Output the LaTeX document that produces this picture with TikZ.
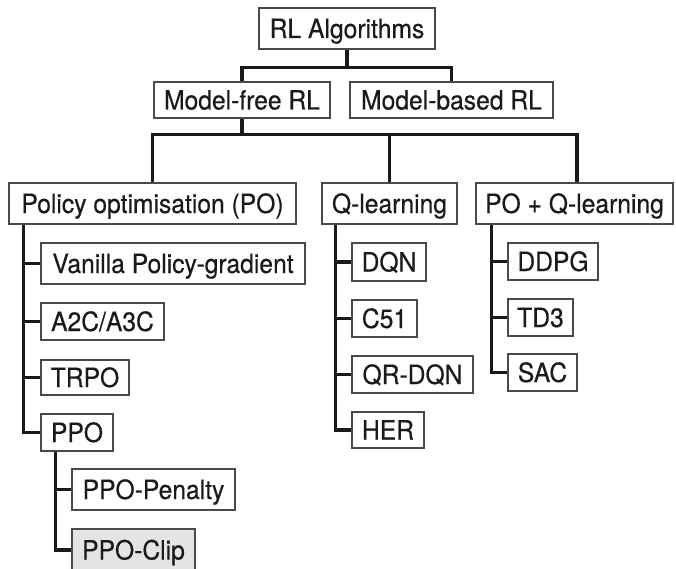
\documentclass[tikz,border=0pt]{standalone}
\usepackage{fontspec}
\setmainfont{TeX Gyre Heros}[FakeStretch=0.93,FakeBold=0.4]
\definecolor{boxgray}{HTML}{4A4A4A}
\definecolor{linkc}{HTML}{1A1A1A}
\definecolor{txt}{HTML}{1A1A1A}
\definecolor{clipfill}{HTML}{E4E4E4}
\newcommand\mybox[7][]{%
  \node[box,#1,minimum width={#5-#3},minimum height={#6-#4}] (#2) at ({(#3+#5)/2},{(#4+#6)/2}) {#7};}
\begin{document}
\begin{tikzpicture}[x=1pt,y=-1pt,
  box/.style={draw=boxgray,line width=1.4pt,inner sep=0pt,text=txt,
    font=\fontsize{26.5}{31}\selectfont,text height=19pt,text depth=0pt},
  link/.style={draw=linkc,line width=3.2pt,line join=miter}]
\useasboundingbox (0,0) rectangle (676,569);
\clip (0,0) rectangle (676,569);
% boxes
\mybox{root}{259}{8}{435}{49}{RL Algorithms}
\mybox{mf}{154}{82}{330}{118}{Model-free RL}
\mybox{mb}{350}{82}{553}{118}{Model-based RL}
\mybox{po}{9}{183}{296}{224}{Policy optimisation (PO)}
\mybox{ql}{322}{183}{457}{224}{Q-learning}
\mybox{poq}{476}{183}{673}{224}{PO + Q-learning}
\mybox{vpg}{41}{243}{305}{284}{Vanilla Policy-gradient}
\mybox{a2c}{41}{303}{164}{340}{A2C/A3C}
\mybox{trpo}{41}{360}{129}{395}{TRPO}
\mybox{ppo}{41}{414}{113}{451}{PPO}
\mybox{ppopen}{72}{469}{235}{510}{PPO-Penalty}
\mybox[fill=clipfill]{ppoclip}{72}{529}{195}{571}{PPO-Clip}
\mybox{dqn}{352}{243}{426}{281}{DQN}
\mybox{c51}{352}{300}{417}{337}{C51}
\mybox{qrdqn}{352}{356}{473}{393}{QR-DQN}
\mybox{her}{352}{412}{424}{448}{HER}
\mybox{ddpg}{508}{243}{598}{280}{DDPG}
\mybox{td3}{508}{299}{573}{336}{TD3}
\mybox{sac}{508}{354}{577}{391}{SAC}
% top connectors
\coordinate (j1) at ([yshift=-18pt]root.south);
\draw[link] (root.south) -- (j1);
\draw[link] (mf.north) |- (j1) -| (mb.north);
\coordinate (j2) at ([yshift=-16pt]mf.south);
\draw[link] (mf.south) -- (j2);
\draw[link] (po.north) |- (j2) -| ([xshift=2.5pt]poq.north);
\draw[link] (ql.north) -- (ql.north |- j2);
% PO children
\coordinate (pox) at ([xshift=15pt]po.south west);
\draw[link] (pox) |- (ppo.west);
\foreach \n in {vpg,a2c,trpo} \draw[link] (\n.west) -- (\n.west -| pox);
% PPO children
\coordinate (ppox) at ([xshift=15pt]ppo.south west);
\draw[link] (ppox) |- (ppoclip.west);
\draw[link] (ppopen.west) -- (ppopen.west -| ppox);
% Q-learning children
\coordinate (qlx) at ([xshift=14pt]ql.south west);
\draw[link] (qlx) |- (her.west);
\foreach \n in {dqn,c51,qrdqn} \draw[link] (\n.west) -- (\n.west -| qlx);
% PO+Q children
\coordinate (poqx) at ([xshift=16pt]poq.south west);
\draw[link] (poqx) |- (sac.west);
\foreach \n in {ddpg,td3} \draw[link] (\n.west) -- (\n.west -| poqx);
\end{tikzpicture}
\end{document}
